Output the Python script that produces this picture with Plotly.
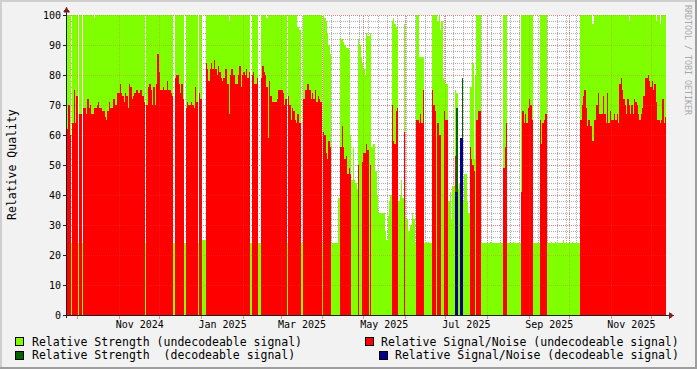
import plotly.graph_objects as go
import pandas as pd

# ---------------- data (one sample per day) ----------------
START_DAY = "2024-09-23"
RANGE_END = "2025-12-11 17:00"

# Relative Signal/Noise (undecodeable signal), None = no value
rel_snr_undec = [
    62, 70, 60, None, 64, 75, 64, 73, None, 67,
    67, None, 69, 69, 67, 72, 69, 70, 67, 67,
    69, 69, 70, 71, 69, 69, 68, 68, 66, 65,
    68, 71, 69, 69, 72, 72, 70, 74, 74, 77,
    74, 73, 71, 74, 73, 69, 77, 76, 72, 73,
    74, 75, 75, 74, 75, 75, 73, 71, None, 70,
    76, 77, 75, 70, 76, 70, 77, 87, 81, 75,
    75, 76, 75, 75, 78, 75, 75, 74, 73, None,
    79, 80, 80, 77, 74, 77, 72, None, 69, 71,
    70, 70, 71, 70, 69, 76, 71, None, 74, 72,
    None, None, None, 84, 82, 78, 82, 84, 82, 85,
    82, 80, 83, 81, 79, 78, 79, 82, 82, 77,
    67, 80, 82, 80, 80, 77, 77, 80, 83, 76,
    80, 81, 80, 82, 79, 81, None, 80, 81, 77,
    77, 79, None, None, 79, 83, 81, 80, 76, 59,
    78, 73, 71, 71, 71, 71, 72, 75, 75, 75,
    74, 70, 72, None, 73, 70, 65, 69, 68, 65,
    64, 67, 64, 64, None, 72, 72, 75, 77, 77,
    75, 72, 74, 72, 75, 71, 73, 72, 71, None,
    61, 60, 54, 52, 58, 56, None, None, None, None,
    None, None, None, 56, 63, 56, 52, 53, 47, 49,
    47, None, None, None, None, None, 50, None, None, 51,
    54, 54, 57, 55, None, 50, None, None, None, None,
    None, None, None, None, None, None, None, None, None, None,
    None, 70, 58, 57, 68, 69, None, None, None, None,
    61, None, None, None, None, None, None, None, None, 65,
    65, 64, 67, 64, 75, None, None, None, None, None,
    None, 75, 70, 68, None, 64, 60, 60, None, None,
    68, 65, 65, None, None, None, None, None, 53, None,
    None, None, None, None, None, None, None, None, None, 56,
    52, 50, 48, None, 65, 68, 68, None, None, None,
    None, None, None, None, None, None, None, None, None, None,
    None, None, None, None, 49, 56, 64, None, None, None,
    None, None, None, None, None, None, None, 41, 68, 64,
    67, 64, 69, 72, 70, 65, None, None, None, None,
    None, 65, 57, 64, 65, 67, None, None, None, None,
    None, None, None, None, None, None, None, None, None, None,
    None, None, None, None, None, None, None, None, None, None,
    None, 65, 70, 73, 75, 69, 63, 65, 63, 63,
    58, 65, 65, 70, 74, 67, 67, 67, 73, 67,
    64, 74, 64, 68, 65, 65, 67, 65, 67, 64,
    77, 79, 75, 72, 70, 67, 72, 70, 67, 70,
    67, 72, 71, 70, 67, 65, 67, 69, 73, 79,
    79, 80, 78, 76, 78, 75, 77, 71, 65, 65,
    64, 65, 72, 64, 66, 66,
]

# Relative Strength (undecodeable signal)
rel_strength_undec = [
    100, 100, 100, 24, 100, 100, 100, 100, 24, 100,
    100, 24, 100, 100, 100, 100, 100, 100, 100, 100,
    99, 100, 100, 100, 100, 100, 100, 100, 100, 100,
    100, 100, 100, 100, 100, 100, 100, 100, 100, 100,
    100, 100, 100, 100, 100, 100, 100, 100, 100, 100,
    100, 100, 100, 100, 100, 100, 100, 100, 24, 100,
    100, 100, 100, 100, 100, 100, 100, 100, 100, 100,
    100, 100, 100, 100, 100, 100, 100, 100, 100, 24,
    100, 100, 100, 100, 100, 100, 100, 24, 100, 100,
    100, 100, 100, 100, 100, 100, 100, 24, 100, 100,
    25, 25, 25, 100, 100, 100, 100, 100, 100, 100,
    100, 100, 100, 100, 100, 100, 100, 100, 100, 100,
    98, 100, 100, 100, 100, 100, 100, 100, 100, 100,
    100, 100, 100, 100, 100, 100, 24, 100, 100, 100,
    100, 100, 24, 24, 100, 100, 100, 100, 99, 100,
    100, 100, 100, 100, 100, 100, 100, 100, 100, 100,
    100, 100, 100, 24, 100, 100, 100, 100, 100, 100,
    100, 96, 95, 95, 24, 100, 100, 100, 100, 100,
    100, 100, 100, 100, 100, 100, 100, 100, 100, 24,
    100, 99, 98, 94, 90, 87, 24, 24, 24, 24,
    24, 39, 39, 92, 92, 91, 90, 89, 89, 88,
    60, 45, 56, 45, 44, 42, 92, 90, 86, 84,
    82, 80, 94, 93, 93, 94, 56, 57, 57, 48,
    40, 34, 34, 34, 34, 34, 28, 25, 33, 38,
    40, 98, 99, 97, 96, 95, 38, 40, 45, 39,
    97, 33, 32, 28, 28, 30, 34, 32, 24, 100,
    100, 86, 86, 86, 86, 24, 24.5, 24, 24.3, 24,
    24, 100, 100, 100, 100, 98, 100, 95, 98, 79,
    78, 77, 77, 38, 41, 32, 43, 43, 75, 74,
    42, 44, 44, 44, 38, 47, 47, 38, 34, 76,
    76, 84, 52, 80, 100, 100, 100, 24, 24, 24,
    24, 24, 24, 24, 24.5, 24, 24, 24, 24, 24,
    24, 24, 24, 24, 100, 100, 100, 24, 24, 24,
    24, 24.5, 24, 24, 24, 24, 24, 100, 100, 100,
    100, 100, 100, 100, 100, 100, 24, 24, 24, 24,
    24, 100, 100, 100, 100, 100, 24, 24, 24, 24.5,
    24, 24, 24.5, 24, 24, 24, 24, 24, 25, 24,
    24, 24, 24, 24, 24, 24.5, 24, 24, 24, 24,
    24, 100, 100, 100, 100, 100, 100, 100, 100, 100,
    97, 100, 100, 100, 100, 100, 100, 100, 100, 100,
    100, 100, 100, 100, 100, 100, 100, 100, 100, 100,
    100, 100, 100, 100, 100, 100, 100, 98, 100, 100,
    100, 100, 100, 100, 100, 100, 100, 100, 100, 100,
    100, 100, 100, 100, 100, 100, 100, 98, 100, 100,
    97, 100, 100, 100, 100, 100,
]

# decodeable signal: only a few days carry values
dec_strength_days = ["2025-07-09", "2025-07-13"]
rel_strength_dec = [69, 79]
dec_snr_days = ["2025-07-08", "2025-07-09", "2025-07-12", "2025-07-13"]
rel_snr_dec = [41, 41, 59, 59]

x_tick_pos = ["2024-11-16", "2025-01-16 12:00", "2025-03-16 12:00", "2025-05-16 12:00",
              "2025-07-16 12:00", "2025-09-16", "2025-11-16"]
x_tick_text = ["Nov 2024", "Jan 2025", "Mar 2025", "May 2025", "Jul 2025", "Sep 2025", "Nov 2025"]
y_ticks = [0, 10, 20, 30, 40, 50, 60, 70, 80, 90, 100]

legend_items = [
    "Relative Strength (undecodeable signal)",
    "Relative Strength\u00a0 (decodeable signal)",
    "Relative Signal/Noise (undecodeable signal)",
    "Relative Signal/Noise (decodeable signal)",
]

# ---------------- styling ----------------
C_GREEN = "rgba(127,255,0,0.999)"
C_RED = "rgba(255,0,0,0.999)"
C_DGREEN = "rgba(0,100,0,0.999)"
C_BLUE = "rgba(0,0,139,0.999)"
MONO = "DejaVu Sans Mono"
DAY_MS = 86400000

days = pd.date_range(START_DAY, periods=len(rel_snr_undec), freq="D")

fig = go.Figure()


def add_bars(xs, ys, color):
    fig.add_trace(go.Bar(x=xs, y=ys, width=DAY_MS, offset=0,
                         marker=dict(color=color, line=dict(width=0)),
                         hoverinfo="skip", showlegend=False))


add_bars(days, rel_strength_undec, C_GREEN)
add_bars(pd.to_datetime(dec_strength_days), rel_strength_dec, C_DGREEN)
add_bars(days, rel_snr_undec, C_RED)
add_bars(pd.to_datetime(dec_snr_days), rel_snr_dec, C_BLUE)

# plot area in pixels: x 67..666, y 15..315
L, R, T, B = 67, 666, 15, 315
W, H = 697, 369


def px(xp):
    return (xp - L) / (R - L)


def py(yp):
    return (B - yp) / (B - T)


shapes = []
GRID = "rgba(143,143,143,0.7)"
MGRID = "rgba(222,79,79,0.6)"
MGRID_TOP = "rgba(222,79,79,0.3)"
# minor grid (every 2 units / weekly) sits behind the data, major grid also over it
for v in range(2, 101, 2):
    major = v % 10 == 0
    shapes.append(dict(type="line", xref="paper", yref="y", x0=0, x1=1,
                       y0=v - 1 / 6, y1=v - 1 / 6, layer="below",
                       line=dict(color=MGRID if major else GRID, width=1, dash="1px,1px")))
    if major:
        shapes.append(dict(type="line", xref="paper", yref="y", x0=0, x1=1,
                           y0=v - 1 / 6, y1=v - 1 / 6, layer="above",
                           line=dict(color=MGRID_TOP, width=1, dash="1px,1px")))
months = pd.date_range("2024-10-01", "2025-12-01", freq="MS")
weeks = pd.date_range(START_DAY, RANGE_END, freq="7D")
for w in weeks:
    if w in months:
        continue
    shapes.append(dict(type="line", xref="x", yref="paper", x0=w, x1=w, y0=0, y1=1,
                       layer="below", line=dict(color=GRID, width=1, dash="1px,1px")))
for m in months:
    shapes.append(dict(type="line", xref="x", yref="paper", x0=m, x1=m, y0=0, y1=1,
                       layer="below", line=dict(color=MGRID, width=1, dash="1px,1px")))
    shapes.append(dict(type="line", xref="x", yref="paper", x0=m, x1=m, y0=0, y1=1,
                       layer="above", line=dict(color=MGRID_TOP, width=1, dash="1px,1px")))
    shapes.append(dict(type="line", xref="x", yref="paper", x0=m, x1=m, y0=py(315.5), y1=py(318.5),
                       layer="above", line=dict(color=MGRID, width=1)))

AXIS = "#1f1f1f"
ARROW = "#7f1f1f"
# axis lines
shapes.append(dict(type="line", xref="paper", yref="paper", x0=px(63), x1=px(670),
                   y0=py(315.5), y1=py(315.5), layer="above", line=dict(color=AXIS, width=1)))
shapes.append(dict(type="line", xref="paper", yref="paper", x0=px(66.5), x1=px(66.5),
                   y0=py(318), y1=py(11), layer="above", line=dict(color=AXIS, width=1)))
# arrows
shapes.append(dict(type="path", xref="paper", yref="paper", layer="above",
                   path=f"M {px(674)} {py(315.5)} L {px(669)} {py(312.5)} L {px(669)} {py(318.5)} Z",
                   fillcolor=ARROW, line=dict(color=ARROW, width=0.5)))
shapes.append(dict(type="path", xref="paper", yref="paper", layer="above",
                   path=f"M {px(66.5)} {py(7)} L {px(63.5)} {py(12)} L {px(69.5)} {py(12)} Z",
                   fillcolor=ARROW, line=dict(color=ARROW, width=0.5)))
# frame shading (light top/left, dark bottom/right)
shapes.append(dict(type="rect", xref="paper", yref="paper", x0=px(0), x1=px(W), y0=py(0), y1=py(2),
                   fillcolor="#cfcfcf", line=dict(width=0), layer="above"))
shapes.append(dict(type="rect", xref="paper", yref="paper", x0=px(0), x1=px(2), y0=py(0), y1=py(H),
                   fillcolor="#cfcfcf", line=dict(width=0), layer="above"))
shapes.append(dict(type="rect", xref="paper", yref="paper", x0=px(0), x1=px(W), y0=py(H - 2), y1=py(H),
                   fillcolor="#9e9e9e", line=dict(width=0), layer="above"))
shapes.append(dict(type="rect", xref="paper", yref="paper", x0=px(W - 2), x1=px(W), y0=py(0), y1=py(H),
                   fillcolor="#9e9e9e", line=dict(width=0), layer="above"))

# legend boxes
legend_boxes = [(15, 337, "#7FFF00"), (15, 350.5, "#006400"), (365, 337, "#FF0000"), (379, 350.5, "#00008B")]
for (bx, by, col) in legend_boxes:
    shapes.append(dict(type="rect", xref="paper", yref="paper", x0=px(bx + 0.5), x1=px(bx + 8.5),
                       y0=py(by + 0.5), y1=py(by + 8.5), fillcolor=col,
                       line=dict(color="black", width=1), layer="above"))

annotations = []
LEG_FONT = dict(family=MONO, size=11.5, color="black")
annotations.append(dict(text=legend_items[0], xref="paper", yref="paper", x=px(29.5), y=py(341.5),
                        xanchor="left", yanchor="middle", showarrow=False, font=LEG_FONT))
annotations.append(dict(text=legend_items[1], xref="paper", yref="paper", x=px(29.5), y=py(355),
                        xanchor="left", yanchor="middle", showarrow=False, font=LEG_FONT))
annotations.append(dict(text=legend_items[2], xref="paper", yref="paper", x=px(681), y=py(341.5),
                        xanchor="right", yanchor="middle", showarrow=False, font=LEG_FONT))
annotations.append(dict(text=legend_items[3], xref="paper", yref="paper", x=px(681), y=py(355),
                        xanchor="right", yanchor="middle", showarrow=False, font=LEG_FONT))
annotations.append(dict(text="Relative Quality", xref="paper", yref="paper", x=px(12), y=py(165),
                        xanchor="center", yanchor="middle", textangle=-90, showarrow=False,
                        font=dict(family=MONO, size=11.5, color="black")))
annotations.append(dict(text="RRDTOOL / TOBI OETIKER", xref="paper", yref="paper", x=px(688), y=py(60),
                        xanchor="center", yanchor="middle", textangle=90, showarrow=False,
                        font=dict(family=MONO, size=8.3, color="#a8a8a8")))

fig.update_layout(
    width=W, height=H,
    margin=dict(l=L, r=W - R, t=T, b=H - B, pad=0, autoexpand=False),
    paper_bgcolor="#f2f2f2", plot_bgcolor="white",
    barmode="overlay", bargap=0,
    showlegend=False,
    shapes=shapes, annotations=annotations,
    xaxis=dict(type="date", range=[START_DAY, RANGE_END], tickmode="array",
               tickvals=x_tick_pos, ticktext=x_tick_text, ticks="", showgrid=False,
               zeroline=False, showline=False, fixedrange=True, automargin=False,
               ticklabelstandoff=2,
               tickfont=dict(family=MONO, size=10, color="black")),
    yaxis=dict(range=[0, 100], tickmode="array", tickvals=y_ticks, ticks="outside",
               ticklen=3, tickcolor=AXIS, tickwidth=1, showgrid=False, zeroline=False,
               showline=False, fixedrange=True, automargin=False,
               tickfont=dict(family=MONO, size=10, color="black")),
)

POST = (
    "document.body.style.margin='0px';document.body.style.padding='0px';"
    "var st=document.createElement('style');"
    "st.innerHTML='.barlayer path{shape-rendering:crispEdges !important;}"
    " .shapelayer path{shape-rendering:crispEdges;}';"
    "document.head.appendChild(st);"
)
fig.write_html("out.html", config={"displayModeBar": False}, post_script=POST)
